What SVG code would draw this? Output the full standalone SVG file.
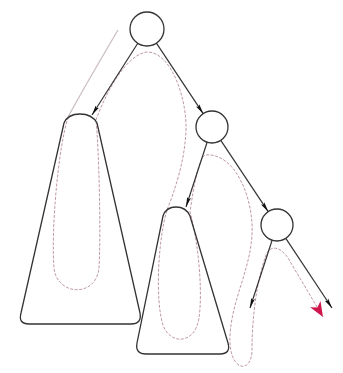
<svg xmlns="http://www.w3.org/2000/svg" width="343" height="373" viewBox="0 0 343 373">
<style>
.node{fill:#fff;stroke:#333;stroke-width:1.3}
.tri{fill:none;stroke:#333;stroke-width:1.3;stroke-linejoin:round}
.edge{fill:none;stroke:#333;stroke-width:1.2;marker-end:url(#ah)}
.tour{fill:none;stroke:#bf9aa2;stroke-width:1;stroke-dasharray:3 1.5}
.start{fill:none;stroke:#cbbfc1;stroke-width:1.3}
</style>
<defs>
<marker id="ah" markerUnits="userSpaceOnUse" markerWidth="10" markerHeight="5" refX="10" refY="2.5" orient="auto">
<path d="M0,0.5 L10,2.5 L0,4.5 L2,2.5 z" fill="#111"/>
</marker>
<marker id="red" markerUnits="userSpaceOnUse" markerWidth="18" markerHeight="12" refX="15" refY="6" orient="auto">
<path d="M0,0 L15,6 L0,12 L4,6 z" fill="#d0164c"/>
</marker>
</defs>
<g id="tour">
<path class="start" d="M118,30 C105,52 80,95 68,117"/>
<path class="tour" marker-end="url(#red)" d="M68,117 C58,150 51,230 54,268 C57,296 96,298 99,268 C101,230 99,150 96,120 C105,95 125,55 147,52 C172,52 187,100 186,130 C185,160 175,190 167,210 C158,240 155,300 163,325 C170,345 195,345 199,318 C203,290 198,240 190,212 C194,185 198,160 205,155 C236,152 254,200 252,235 C250,270 232,300 230,335 C228,372 252,375 252,350 C252,320 256,283 266,255 C270,245 280,246 288,258 L323,317"/>
</g>
<g id="connectors">
<path class="edge" d="M137.8,43.3 L92,115"/>
<path class="edge" d="M156.4,43.2 L203.2,113.7"/>
<path class="edge" d="M207.1,142.2 L186,207"/>
<path class="edge" d="M220.8,140.3 L268.2,211.7"/>
<path class="edge" d="M272.1,240.2 L250,308"/>
<path class="edge" d="M285.8,238.3 L332,308"/>
</g>
<g id="subtree1">
<path class="tri" d="M64,123 Q68,114 80,114 Q92,114 97,123 L140,313 Q142,324 131,324 L29,324 Q18,324 21,313 Z"/>
</g>
<g id="subtree2">
<path class="tri" d="M163,216 Q166,207 176,207 Q186,207 190,216 L228,343 Q231,354 220,354 L146,354 Q135,354 137,343 Z"/>
</g>
<g id="root"><circle class="node" cx="147" cy="29" r="17"/></g>
<g id="node2"><circle class="node" cx="212" cy="127" r="16"/></g>
<g id="node3"><circle class="node" cx="277" cy="225" r="16"/></g>
</svg>
